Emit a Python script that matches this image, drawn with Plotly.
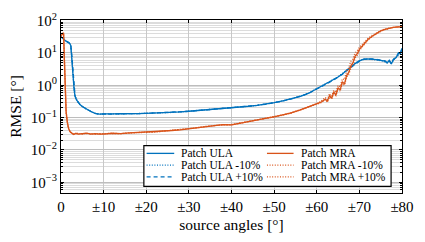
import plotly.graph_objects as go

# ---------------- data ----------------
ula_x = [0, 0.5, 1, 1.5, 2, 2.3, 2.5, 2.7, 2.9, 3.1, 3.3, 3.6, 4, 4.5, 5, 5.5, 6, 7, 8, 9,
         10, 11, 12, 14, 16, 18, 20, 22, 24, 26, 28, 30, 32, 34, 36, 38, 40, 42, 44, 46,
         48, 50, 52, 54, 56, 58, 60, 61, 62, 63, 64, 65, 66, 67, 68, 69, 70, 71, 72, 73,
         74, 75, 76, 76.5, 77, 77.5, 78, 78.5, 79, 79.3, 79.6, 80]
ula = [32, 27, 24, 22, 20, 17, 9, 3.5, 1.5, 0.7, 0.46, 0.36, 0.3, 0.25, 0.22, 0.2, 0.18, 0.155, 0.135, 0.128,
       0.13, 0.128, 0.13, 0.132, 0.13, 0.134, 0.136, 0.138, 0.14, 0.145, 0.15, 0.158, 0.165, 0.175, 0.182, 0.19, 0.2, 0.21, 0.225, 0.24,
       0.26, 0.29, 0.33, 0.38, 0.45, 0.56, 0.78, 0.9, 1.05, 1.25, 1.5, 1.8, 2.25, 2.9, 3.7, 4.7, 5.7, 6.4, 6.6, 6.5,
       6.2, 5.9, 5.6, 4.9, 5.8, 4.6, 6.3, 7.0, 8.5, 10.5, 9.2, 14]
ula_m10 = [31, 27, 24, 22, 20, 16, 8.5, 3.3, 1.4, 0.68, 0.45, 0.36, 0.3, 0.25, 0.22, 0.2, 0.18, 0.155, 0.136, 0.129,
           0.129, 0.129, 0.13, 0.131, 0.131, 0.134, 0.137, 0.138, 0.141, 0.145, 0.151, 0.158, 0.166, 0.175, 0.183, 0.19, 0.2, 0.211, 0.225, 0.241,
           0.262, 0.29, 0.33, 0.385, 0.455, 0.57, 0.79, 0.91, 1.06, 1.27, 1.52, 1.83, 2.3, 2.95, 3.8, 4.8, 5.8, 6.4, 6.5, 6.4,
           6.1, 5.8, 5.5, 5.1, 5.6, 4.8, 6.0, 7.2, 8.2, 10.0, 9.6, 13]
ula_p10 = [32, 28, 24, 22, 20, 17, 9.5, 3.7, 1.6, 0.72, 0.47, 0.37, 0.3, 0.25, 0.22, 0.2, 0.18, 0.156, 0.135, 0.128,
           0.13, 0.128, 0.129, 0.132, 0.13, 0.133, 0.136, 0.139, 0.14, 0.146, 0.15, 0.157, 0.165, 0.174, 0.182, 0.191, 0.2, 0.21, 0.224, 0.24,
           0.26, 0.288, 0.328, 0.378, 0.448, 0.555, 0.77, 0.89, 1.04, 1.24, 1.48, 1.78, 2.2, 2.85, 3.6, 4.6, 5.6, 6.3, 6.6, 6.6,
           6.3, 6.0, 5.7, 5.0, 5.9, 4.7, 6.4, 7.1, 8.8, 10.8, 9.4, 14.5]

mra_x = [0, 0.3, 0.6, 0.8, 1.0, 1.2, 1.5, 1.8, 2.2, 2.6, 3, 3.5, 4, 5, 6, 7, 8, 9, 10, 12,
         14, 16, 18, 20, 22, 24, 26, 28, 30, 32, 34, 36, 38, 40, 42, 44, 46, 48, 50, 52,
         54, 56, 58, 60, 61, 62, 62.5, 63, 63.5, 64, 64.5, 65, 65.5, 66, 66.5, 67, 67.5, 68, 68.5, 69,
         69.5, 70, 71, 72, 73, 74, 75, 76, 77, 78, 79, 80]
mra = [34, 38, 42, 6, 0.65, 0.15, 0.07, 0.045, 0.036, 0.032, 0.03, 0.033, 0.031, 0.032, 0.033, 0.031, 0.032, 0.031, 0.031, 0.033,
       0.032, 0.034, 0.035, 0.035, 0.036, 0.038, 0.04, 0.042, 0.045, 0.049, 0.054, 0.058, 0.061, 0.06, 0.068, 0.075, 0.085, 0.095, 0.105, 0.12,
       0.14, 0.17, 0.21, 0.26, 0.3, 0.37, 0.33, 0.48, 0.4, 0.62, 0.5, 0.85, 0.72, 1.3, 1.1, 2.0, 2.5, 4.0, 5.0, 8.0,
       9.5, 13, 19, 26, 33, 40, 48, 54, 59, 62, 64, 64]
mra_m10 = [33, 37, 40, 5.5, 0.6, 0.14, 0.068, 0.044, 0.035, 0.032, 0.031, 0.032, 0.031, 0.032, 0.032, 0.031, 0.032, 0.032, 0.031, 0.032,
           0.032, 0.034, 0.034, 0.035, 0.036, 0.038, 0.04, 0.042, 0.045, 0.049, 0.054, 0.058, 0.06, 0.061, 0.068, 0.075, 0.086, 0.096, 0.106, 0.122,
           0.142, 0.172, 0.215, 0.27, 0.32, 0.42, 0.36, 0.55, 0.45, 0.7, 0.6, 1.0, 0.9, 1.6, 1.5, 2.7, 3.5, 5.5, 6.5, 10,
           11.5, 15, 21, 28, 35, 42, 49, 55, 59, 62, 64, 64]
mra_p10 = [35, 39, 43, 6.5, 0.7, 0.16, 0.072, 0.046, 0.036, 0.033, 0.03, 0.033, 0.032, 0.031, 0.033, 0.031, 0.031, 0.031, 0.032, 0.033,
           0.032, 0.033, 0.035, 0.036, 0.036, 0.038, 0.04, 0.042, 0.046, 0.049, 0.053, 0.058, 0.061, 0.06, 0.067, 0.075, 0.084, 0.094, 0.104, 0.119,
           0.138, 0.168, 0.205, 0.25, 0.29, 0.36, 0.3, 0.44, 0.38, 0.56, 0.48, 0.78, 0.66, 1.15, 1.0, 1.8, 2.2, 3.4, 4.3, 7.0,
           8.5, 12, 18, 25, 32, 39, 47, 53, 58, 62, 63, 64]

x_ticks = [0, 10, 20, 30, 40, 50, 60, 70, 80]
x_tick_labels = ["0", "±10", "±20", "±30", "±40", "±50", "±60", "±70", "±80"]
y_ticks = [1e-3, 1e-2, 1e-1, 1e0, 1e1, 1e2]
y_tick_labels = ["10<sup>−3</sup>", "10<sup>−2</sup>", "10<sup>−1</sup>",
                 "10<sup>0</sup>", "10<sup>1</sup>", "10<sup>2</sup>"]

legend_names = ["Patch ULA", "Patch ULA -10%", "Patch ULA +10%",
                "Patch MRA", "Patch MRA -10%", "Patch MRA +10%"]

# ---------------- styling ----------------
BLUE = "#0072BD"
ORANGE = "#D95319"
FONT = "'Liberation Serif', 'Times New Roman', Times, serif"
LW = 1.3
DOT = "1px,1.6px"
DASH = "4px,3px"

series = [
    (ula_x, ula, BLUE, "solid"),
    (ula_x, ula_m10, BLUE, DOT),
    (ula_x, ula_p10, BLUE, DASH),
    (mra_x, mra, ORANGE, "solid"),
    (mra_x, mra_m10, ORANGE, DOT),
    (mra_x, mra_p10, ORANGE, DOT),
]

fig = go.Figure()
for (xs, ys, col, dash), name in zip(series, legend_names):
    fig.add_trace(go.Scatter(x=xs, y=ys, mode="lines", name=name, showlegend=False,
                             line=dict(color=col, width=LW, dash=dash)))

minor_vals = [m * 10.0 ** e for e in range(-4, 2) for m in range(2, 10)]

fig.update_layout(
    width=425, height=242,
    margin=dict(l=61, r=18, t=11, b=45),
    paper_bgcolor="white", plot_bgcolor="white",
    font=dict(family=FONT, size=15, color="black"),
    xaxis=dict(range=[0, 80], tickmode="array", tickvals=x_ticks, ticktext=x_tick_labels,
               showgrid=True, gridcolor="#c8c8c8", gridwidth=1,
               showline=True, linecolor="black", linewidth=1.2, mirror="ticks",
               ticks="inside", ticklen=3, tickcolor="black",
               tickfont=dict(family=FONT, size=15), zeroline=False,
               title=dict(text="source angles [°]", font=dict(family=FONT, size=15.5), standoff=5)),
    yaxis=dict(type="log", range=[-3.33, 2.02], tickmode="array", tickvals=y_ticks,
               ticktext=y_tick_labels,
               showgrid=True, gridcolor="#bdbdbd", gridwidth=1.2,
               showline=True, linecolor="black", linewidth=1.2, mirror="ticks",
               ticks="inside", ticklen=3, tickcolor="black",
               tickfont=dict(family=FONT, size=15), zeroline=False,
               minor=dict(tickmode="array", tickvals=minor_vals, showgrid=True,
                          gridcolor="#dcdcdc", gridwidth=1, ticks="inside",
                          ticklen=2, tickcolor="black"),
               title=dict(text="RMSE [°]", font=dict(family=FONT, size=15.5), standoff=5)),
)

# legend box (manual, two columns)
fig.add_shape(type="rect", xref="paper", yref="paper", x0=0.243, x1=0.968, y0=0.038, y1=0.274,
              line=dict(color="black", width=1.2), fillcolor="white", layer="above")
rows_y = [0.229, 0.161, 0.093]
cols = [(0.251, 0.332, 0.347), (0.604, 0.682, 0.697)]
for i, ((xs, ys, col, dash), name) in enumerate(zip(series, legend_names)):
    c = cols[i // 3]
    ry = rows_y[i % 3]
    fig.add_shape(type="line", xref="paper", yref="paper", x0=c[0], x1=c[1], y0=ry, y1=ry,
                  line=dict(color=col, width=LW, dash=dash), layer="above")
    fig.add_annotation(xref="paper", yref="paper", x=c[2], y=ry, text=name, showarrow=False,
                       xanchor="left", yanchor="middle", font=dict(size=11.5, family=FONT))

fig.write_html("out.html", config={"displayModeBar": False},
               post_script="document.body.style.margin='0';")
